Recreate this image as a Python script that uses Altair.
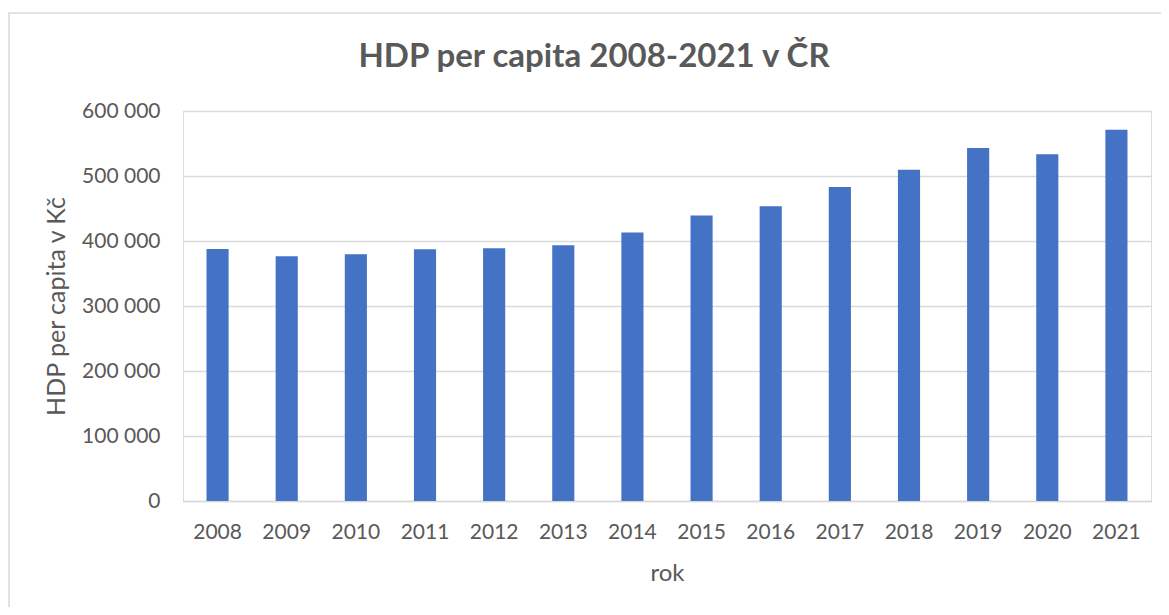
import altair as alt
import pandas as pd

years = ["2008", "2009", "2010", "2011", "2012", "2013", "2014",
         "2015", "2016", "2017", "2018", "2019", "2020", "2021"]
hdp = [387700, 376600, 379500, 387200, 388800, 393400, 412900,
       439100, 453400, 483100, 509800, 543100, 533400, 571300]
title_text = "HDP per capita 2008-2021 v ČR"

df = pd.DataFrame({"rok": years, "hdp": hdp})

FONT = "Lato"
TXT = "#595959"

bars = alt.Chart(df).mark_bar(color="#4472C4").encode(
    x=alt.X("rok:O", sort=years,
            scale=alt.Scale(paddingInner=0.68, paddingOuter=0.34),
            axis=alt.Axis(title="rok", labelAngle=0, ticks=False, domain=True,
                          domainColor="#d9d9d9", domainWidth=1.5,
                          labelPadding=20, labelFontSize=21, labelColor=TXT,
                          labelFont=FONT, titleFont=FONT, titleFontSize=24,
                          titleFontWeight="normal", titleColor=TXT,
                          titleX=484, titleY=79, titleBaseline="alphabetic",
                          titleAlign="center")),
    y=alt.Y("hdp:Q",
            scale=alt.Scale(domain=[0, 600000], nice=False),
            axis=alt.Axis(title="HDP per capita v Kč",
                          values=[0, 100000, 200000, 300000, 400000, 500000, 600000],
                          labelExpr="replace(format(datum.value, ','), regexp(',', 'g'), ' ')",
                          ticks=False, domain=False, grid=True,
                          gridColor="#d9d9d9", gridWidth=1.5,
                          labelPadding=23, labelFontSize=21, labelColor=TXT,
                          labelFont=FONT, titleFont=FONT, titleFontSize=25,
                          titleFontWeight="normal", titleColor=TXT,
                          titleAngle=270, titleX=-127, titleY=195,
                          titleBaseline="middle", titleAlign="center")),
)

border = alt.Chart(alt.Data(values=[{}])).mark_rect(
    filled=False, stroke="#d9d9d9", strokeWidth=1.5
).encode(
    x=alt.value(-174), x2=alt.value(1500),
    y=alt.value(-98), y2=alt.value(1000),
)

title = alt.Chart(alt.Data(values=[{}])).mark_text(
    text=title_text, font=FONT, fontSize=33, fontWeight="bold", color=TXT,
    align="center", baseline="alphabetic",
).encode(
    x=alt.value(411), y=alt.value(-44),
)

chart = alt.layer(border, title, bars).properties(
    width=968,
    height=390,
    autosize=alt.AutoSizeParams(type="none"),
    padding={"left": 175, "top": 103, "right": 10, "bottom": 106},
).configure_view(strokeWidth=0).configure(background="white")

chart.save("out.html", embed_options={"renderer": "svg", "actions": False})
